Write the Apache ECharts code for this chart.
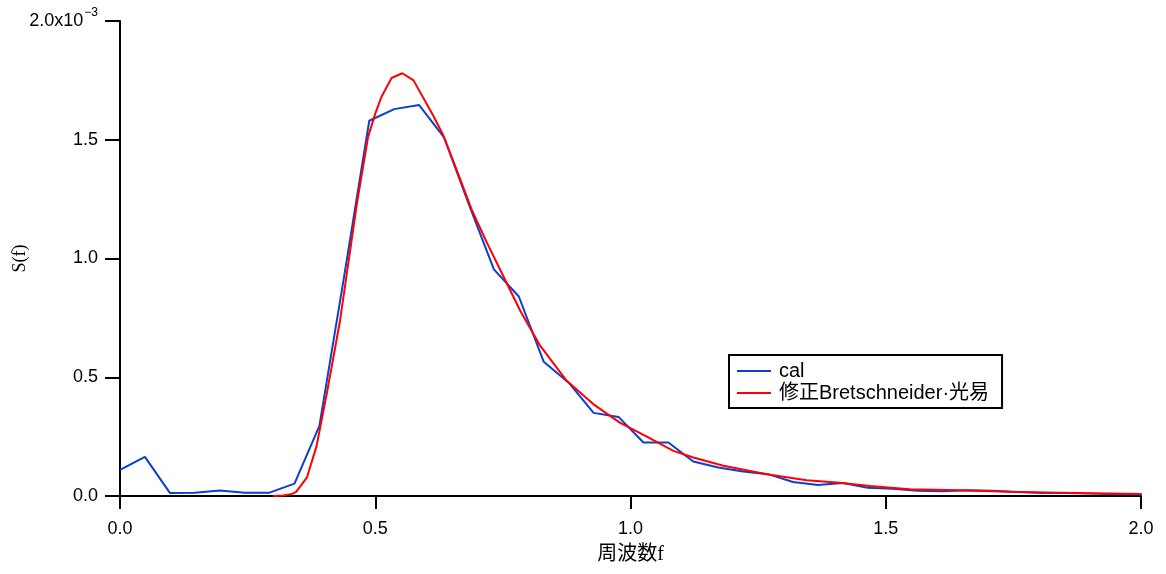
<!DOCTYPE html>
<html>
<head>
<meta charset="utf-8">
<script src="https://cdn.jsdelivr.net/npm/echarts@6/dist/echarts.min.js"></script>
<style>html,body{margin:0;padding:0;background:#fff;}#c{width:1166px;height:574px;}</style>
</head>
<body>
<div id="c"></div>
<script>
// Values of S(f) in units of 1e-3
const calStep = 0.048828; // frequency spacing of "cal" samples
const calS = [0.11, 0.165, 0.013, 0.014, 0.023, 0.014, 0.014, 0.052, 0.295, 0.93,
  1.58, 1.629, 1.646, 1.51, 1.227, 0.954, 0.84, 0.565, 0.477, 0.35,
  0.333, 0.225, 0.225, 0.145, 0.12, 0.103, 0.092, 0.059, 0.046, 0.055,
  0.035, 0.03, 0.022, 0.02, 0.024, 0.022, 0.017, 0.013, 0.013, 0.01,
  0.007, 0.006];
const bmF = [0.300, 0.320, 0.335, 0.345, 0.366, 0.385, 0.405, 0.431, 0.464, 0.486,
  0.500, 0.512, 0.532, 0.553, 0.575, 0.614, 0.633, 0.660, 0.690, 0.718,
  0.744, 0.784, 0.823, 0.875, 0.927, 0.979, 1.032, 1.084, 1.123, 1.182,
  1.267, 1.345, 1.410, 1.469, 1.547, 1.645, 1.743, 1.841, 2.000];
const bmS = [0.0, 0.002, 0.007, 0.017, 0.077, 0.21, 0.43, 0.738, 1.23, 1.512,
  1.61, 1.68, 1.76, 1.78, 1.75, 1.60, 1.52, 1.37, 1.20, 1.07,
  0.956, 0.78, 0.633, 0.485, 0.387, 0.309, 0.25, 0.19, 0.162, 0.127,
  0.092, 0.066, 0.056, 0.042, 0.028, 0.024, 0.018, 0.014, 0.008];
const xTicks = [0, 0.5, 1.0, 1.5, 2.0];
const yTicks = [0, 0.5, 1.0, 1.5, 2.0];
const seriesNames = ['cal', '修正Bretschneider·光易'];

const calData = calS.map((v, i) => [i * calStep, v]);
const bmData = bmF.map((f, i) => [f, bmS[i]]);

const sans = "'Liberation Sans', 'Noto Sans CJK JP', sans-serif";
const serif = "'Liberation Serif', 'DejaVu Serif', 'Noto Sans CJK JP', serif";

const chart = echarts.init(document.getElementById('c'), null, {renderer: 'canvas'});
chart.setOption({
  animation: false,
  backgroundColor: '#fff',
  grid: {left: 120, right: 25, top: 21, bottom: 78, containLabel: false, outerBoundsMode: 'none'},
  xAxis: {
    type: 'value', min: 0, max: 2, interval: 0.5,
    name: '周波数f', nameLocation: 'middle', nameGap: 49, nameMoveOverlap: false,
    nameTextStyle: {fontFamily: serif, fontSize: 20, color: '#000'},
    axisLine: {show: true, onZero: false, lineStyle: {color: '#000', width: 2}},
    axisTick: {show: true, inside: false, length: 13, lineStyle: {color: '#000', width: 2}},
    axisLabel: {color: '#000', fontFamily: sans, fontSize: 18, margin: 24,
      formatter: v => xTicks.indexOf(v) >= 0 ? v.toFixed(1) : ''},
    splitLine: {show: false}
  },
  yAxis: {
    type: 'value', min: 0, max: 2, interval: 0.5,
    name: 'S(f)', nameLocation: 'middle', nameGap: 91, nameRotate: 90, nameMoveOverlap: false,
    nameTextStyle: {fontFamily: serif, fontSize: 18, color: '#000'},
    axisLine: {show: true, onZero: false, lineStyle: {color: '#000', width: 2}},
    axisTick: {show: true, inside: false, length: 15, lineStyle: {color: '#000', width: 2}},
    axisLabel: {color: '#000', fontFamily: sans, fontSize: 18, margin: 22,
      formatter: v => {
        if (yTicks.indexOf(v) < 0) return '';
        if (v === 2) return '{a|2.0x10}{s|−3}';
        return v.toFixed(1);
      },
      rich: {
        a: {fontFamily: sans, fontSize: 18, color: '#000'},
        s: {fontFamily: sans, fontSize: 12, color: '#000', padding: [0, 0, 16, 1]}
      }
    },
    splitLine: {show: false}
  },
  legend: {
    orient: 'vertical', left: 729, top: 355,
    padding: [6, 13, 5, 8],
    itemGap: 2, itemWidth: 34, itemHeight: 2,
    borderColor: '#000', borderWidth: 2, backgroundColor: '#fff',
    textStyle: {fontFamily: sans, fontSize: 20, color: '#000', padding: [0, 0, 0, 3]},
    data: [
      {name: seriesNames[0], icon: 'rect'},
      {name: seriesNames[1], icon: 'rect'}
    ]
  },
  series: [
    {name: seriesNames[0], type: 'line', data: calData, symbol: 'none', showSymbol: false,
      clip: true, lineStyle: {color: '#0b3fd0', width: 2}, itemStyle: {color: '#0b3fd0'}, z: 2},
    {name: seriesNames[1], type: 'line', data: bmData, symbol: 'none', showSymbol: false,
      clip: true, lineStyle: {color: '#ff0000', width: 2}, itemStyle: {color: '#ff0000'}, z: 3}
  ]
});
</script>
</body>
</html>
